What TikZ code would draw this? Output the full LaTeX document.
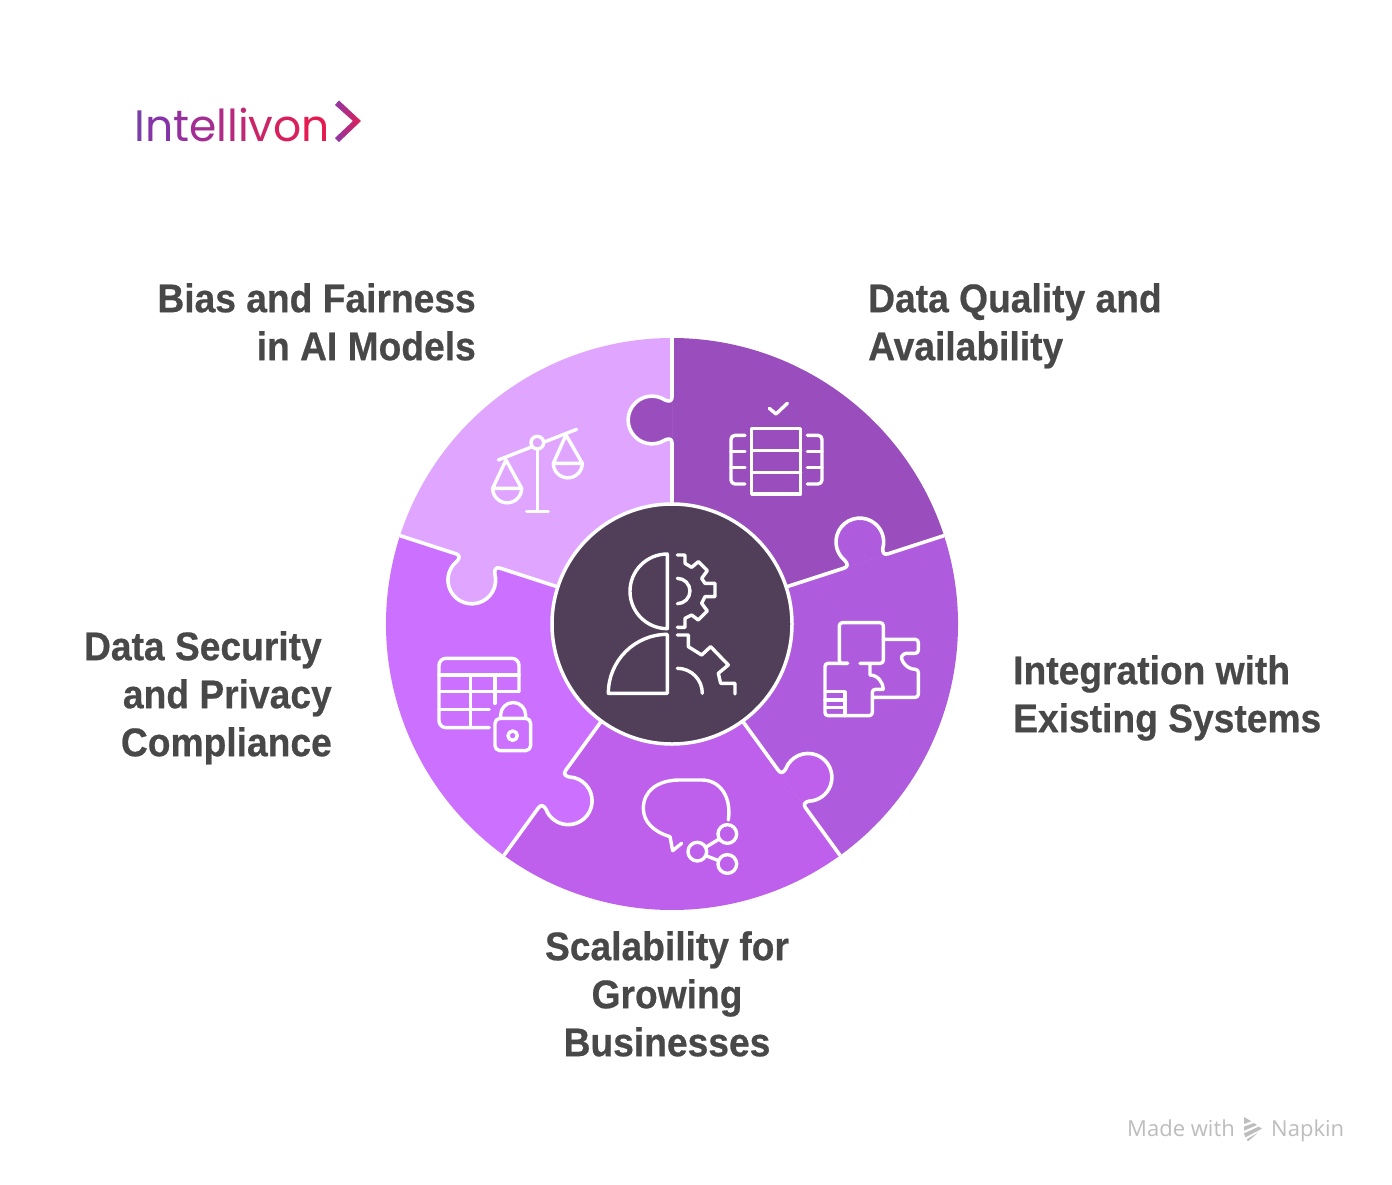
\documentclass[tikz,border=0pt]{standalone}
\usepackage{fontspec}
\setmainfont{Liberation Sans}
\newfontfamily\headfont[FakeStretch=0.93, BoldFeatures={FakeBold=0.5}]{Liberation Sans}
\newfontfamily\logofont{Poppins}
\newfontfamily\markfont{Open Sans}
\definecolor{dataq}{HTML}{9A4DBC}
\definecolor{integ}{HTML}{AF5BDE}
\definecolor{scala}{HTML}{BF60EC}
\definecolor{secur}{HTML}{CB70FF}
\definecolor{biasf}{HTML}{E0A6FF}
\definecolor{hub}{HTML}{513F5A}
\definecolor{headgray}{HTML}{484848}
\definecolor{markgray}{HTML}{BDBDBD}
\definecolor{logostart}{HTML}{8E37A6}
\definecolor{logoend}{HTML}{E01F55}
\begin{document}
\begin{tikzpicture}[x=1pt, y=-1pt, line join=round]
	\tikzstyle{heading}=[inner sep=0pt, text=headgray, font=\headfont\bfseries\fontsize{40}{48}\selectfont]
	\tikzstyle{icon}=[draw=white, line width=3.4pt, line cap=round]
	\tikzstyle{seam}=[draw=white, line width=3.6pt]
	\tikzstyle{footmark}=[inner sep=0pt, text=markgray, font=\markfont\fontsize{22}{26}\selectfont]
	\newcommand\Rout{286}
	\newcommand\Rhub{120}
	\newcommand\Third{0.3333}

	\useasboundingbox (0,0) rectangle (1392,1184);
	\fill [white] (0,0) rectangle (1392,1184);

	% Wedges
\foreach \i/\col in {0/dataq, 1/integ, 2/scala, 3/secur, 4/biasf}
{
	\pgfmathtruncatemacro{\Ang}{\i * -72};
	\begin{scope}[shift={(672,624)}, rotate=\Ang]
		\fill [\col] (0,0) -- (0,-\Rout) arc [start angle=-90, end angle=-18, radius=\Rout] -- cycle;
	\end{scope}
}

	% Seams with the puzzle tabs, each one filled in the colour of its own wedge
\foreach \i/\col in {0/dataq, 1/integ, 2/scala, 3/secur, 4/biasf}
{
	\pgfmathtruncatemacro{\Ang}{\i * -72};
	\begin{scope}[shift={(672,624)}, rotate=\Ang]
		\path [seam, fill=\col] (0,-\Rhub) -- (0,-181) .. controls (0,-185) and (-3,-186) .. (-7,-184)
			arc [start angle=57, end angle=303, radius=23.85]
			.. controls (-3,-222) and (0,-223) .. (0,-227) -- (0,-\Rout);
	\end{scope}
}

	% Hub
	\node [draw=white, line width=3.5pt, fill=hub, circle, minimum size=240pt, inner sep=0pt] at (672,624) (hubdisc) {};

	% Hub icon
\begin{scope}[shift={(590,540)}, scale=\Third]
	\draw [icon] (232,42) arc [start angle=-90, end angle=-270, radius=112] -- cycle;
	\draw [icon] (232,285) -- (232,460) -- (55,460) arc [start angle=180, end angle=270, radius=177];
	\draw [icon] (262,45) -- (285,45) -- (285,70) -- (305,82) -- (325,65) -- (352,92) -- (335,115) -- (345,130) -- (375,130) -- (375,170) -- (345,170) -- (335,190) -- (352,213) -- (325,240) -- (305,225) -- (285,235) -- (285,262) -- (262,262);
	\draw [icon] (262,115) arc [start angle=-90, end angle=90, radius=38];
	\draw [icon] (262,285) -- (295,285) -- (295,320) -- (335,345) -- (362,320) -- (415,375) -- (385,400) -- (392,430) -- (435,430) -- (435,462);
	\draw [icon] (262,385) arc [start angle=-90, end angle=0, radius=75];
\end{scope}

	% Balance icon
\begin{scope}[shift={(380,330)}, scale=\Third]
	\draw [icon] (355,390) -- (590,298);
	\draw [icon, fill=biasf] (472,338) circle [radius=19];
	\draw [icon] (472,358) -- (472,545);
	\draw [icon] (440,545) -- (505,545);
	\draw [icon] (378,390) -- (338,475) -- (425,475) -- cycle;
	\draw [icon] (338,475) arc [start angle=180, end angle=0, radius=43.5];
	\draw [icon] (558,315) -- (520,400) -- (607,400) -- cycle;
	\draw [icon] (520,400) arc [start angle=180, end angle=0, radius=43.5];
\end{scope}

	% Table icon
\begin{scope}[shift={(670,330)}, scale=\Third]
	\draw [icon] (298,235) -- (318,252) -- (352,220);
	\draw [icon] (245,296) rectangle (392,492);
	\draw [icon] (245,362) -- (392,362);
	\draw [icon] (245,427) -- (392,427);
	\draw [icon, rounded corners=4pt] (225,316) -- (183,316) -- (183,462) -- (225,462);
	\draw [icon, rounded corners=4pt] (412,316) -- (456,316) -- (456,462) -- (412,462);
	\draw [icon] (183,365) -- (225,365);
	\draw [icon] (183,413) -- (225,413);
	\draw [icon] (412,365) -- (456,365);
	\draw [icon] (412,413) -- (456,413);
\end{scope}

	% Puzzle icon
\begin{scope}[shift={(670,620)}, scale=\Third]
	\draw [icon, rounded corners=3pt] (533,130) -- (508,130) -- (508,8) -- (640,8) -- (640,130) -- (570,130);
	\draw [icon, rounded corners=3pt] (640,58) -- (745,58) -- (745,100) -- (700,100) .. controls (690,120) and (710,148) .. (745,148) -- (745,232) -- (610,232);
	\draw [icon, rounded corners=3pt] (533,130) -- (465,130) -- (465,287) -- (607,287) -- (607,208) -- (640,208);
	\draw [icon] (640,208) .. controls (640,190) and (625,165) .. (600,165) -- (600,130);
	\draw [icon] (465,215) -- (525,215) -- (525,287);
	\draw [icon] (465,240) -- (525,240);
	\draw [icon] (465,262) -- (525,262);
\end{scope}

	% Bubble icon
\begin{scope}[shift={(670,620)}, scale=\Third]
	\draw [icon] (175,600) .. controls (185,530) and (150,480) .. (95,480) -- (30,480) .. controls (-40,480) and (-80,515) .. (-80,565) .. controls (-80,605) and (-50,635) .. (0,650) -- (8,692) -- (35,670);
	\draw [icon] (172,642) circle [radius=28];
	\draw [icon] (82,695) circle [radius=28];
	\draw [icon] (172,732) circle [radius=28];
	\draw [icon] (110,680) -- (148,657);
	\draw [icon] (110,708) -- (146,722);
\end{scope}

	% Lock icon
\begin{scope}[shift={(380,620)}, scale=\Third]
	\draw [icon, rounded corners=7pt] (417,215) -- (417,115) -- (177,115) -- (177,323) -- (328,323);
	\draw [icon] (177,165) -- (417,165);
	\draw [icon] (177,215) -- (417,215);
	\draw [icon] (177,268) -- (328,268);
	\draw [icon] (272,165) -- (272,323);
	\draw [icon] (345,165) -- (345,250);
	\draw [icon, rounded corners=5pt] (345,295) rectangle (452,392);
	\draw [icon] (362,295) -- (362,285) arc [start angle=180, end angle=360, radius=37.5] -- (437,295);
	\draw [icon] (398,347) circle [radius=14];
\end{scope}

	% Headings
	\node [heading, anchor=north east, align=right] at (476,283) (biastext) {Bias and Fairness\\in AI Models};
	\node [heading, anchor=north west, align=left] at (868,283) (qualtext) {Data Quality and\\Availability};
	\node [heading, anchor=north west, align=left] at (1013,655) (integtext) {Integration with\\Existing Systems};
	\node [heading, anchor=north east, align=right] at (332,631) (sectext) {Data Security\rule{10pt}{0pt}\\and Privacy\\Compliance};
	\node [heading, anchor=north, align=center] at (667,931) (scaltext) {Scalability for\\Growing\\Businesses};

	% Logo
	\node [inner sep=0pt, anchor=base west, font=\logofont\fontsize{44}{50}\selectfont] at (134,141) (logotext) {\textcolor[HTML]{7A3FA8}{I}\textcolor[HTML]{8533A8}{n}\textcolor[HTML]{95309E}{t}\textcolor[HTML]{A42D94}{e}\textcolor[HTML]{B02A88}{l}\textcolor[HTML]{B8297E}{l}\textcolor[HTML]{BF2874}{i}\textcolor[HTML]{CB2568}{v}\textcolor[HTML]{D8205C}{o}\textcolor[HTML]{E51A50}{n}};
	\shade [left color=logostart, right color=logoend] (335,105) -- (339,100.5) -- (361,121) -- (339,142) -- (335,138) -- (353,121) -- cycle;

	% Made with Napkin
	\node [footmark, anchor=base west] at (1127,1136) (madetext) {Made with};
	\node [footmark, anchor=base west] at (1271,1136) (napkintext) {Napkin};
\begin{scope}[shift={(1238,1112)}, scale=\Third]
	\fill [markgray] (18,15) -- (40,28) -- (18,36) -- cycle;
	\fill [markgray] (18,44) -- (48,33) -- (57,39) -- (18,56) -- cycle;
	\fill [markgray] (18,64) -- (62,44) -- (72,50) -- (22,76) -- cycle;
	\fill [markgray] (26,82) -- (60,62) -- (30,88) -- cycle;
\end{scope}
\end{tikzpicture}
\end{document}
